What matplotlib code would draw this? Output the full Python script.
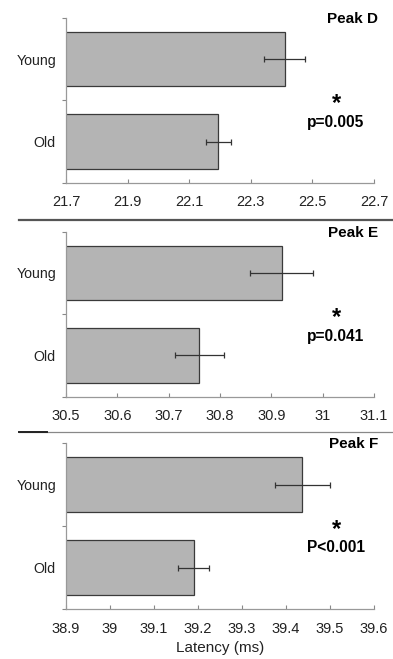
import matplotlib
matplotlib.use("Agg")
import matplotlib.pyplot as plt
from matplotlib.lines import Line2D

plt.rcParams['font.family'] = ['Liberation Sans', 'DejaVu Sans']

categories = ["Old", "Young"]
peaks = ["Peak D", "Peak E", "Peak F"]
means = {
    "Peak D": [22.195, 22.41],
    "Peak E": [30.76, 30.92],
    "Peak F": [39.19, 39.437],
}
errors = {
    "Peak D": [0.04, 0.066],
    "Peak E": [0.048, 0.062],
    "Peak F": [0.035, 0.063],
}
xticks = {
    "Peak D": [21.7, 21.9, 22.1, 22.3, 22.5, 22.7],
    "Peak E": [30.5, 30.6, 30.7, 30.8, 30.9, 31.0, 31.1],
    "Peak F": [38.9, 39.0, 39.1, 39.2, 39.3, 39.4, 39.5, 39.6],
}
xticklabels = {
    "Peak D": ["21.7", "21.9", "22.1", "22.3", "22.5", "22.7"],
    "Peak E": ["30.5", "30.6", "30.7", "30.8", "30.9", "31", "31.1"],
    "Peak F": ["38.9", "39", "39.1", "39.2", "39.3", "39.4", "39.5", "39.6"],
}
pvalues = {"Peak D": "p=0.005", "Peak E": "p=0.041", "Peak F": "P<0.001"}

W, H = 393, 659
fig = plt.figure(figsize=(W / 100, H / 100), dpi=100)

# axes pixel extents (top, bottom)
panels_px = [(18, 182.7), (231.7, 396.7), (443.3, 609.3)]
left_px, right_px = 66, 374

for peak, (top, bot) in zip(peaks, panels_px):
    h = bot - top
    ax = fig.add_axes([left_px / W, 1 - bot / H, (right_px - left_px) / W, h / H])
    ys = list(range(len(categories)))
    ax.barh(ys, means[peak], height=0.66, left=0, color="#b4b4b4",
            edgecolor="#3a3a3a", linewidth=0.9, zorder=2)
    ax.errorbar(means[peak], ys, xerr=errors[peak], fmt="none", ecolor="#333333",
                elinewidth=0.9, capsize=2.5, capthick=0.9, zorder=3)
    t = xticks[peak]
    ax.set_xlim(t[0], t[-1])
    ax.set_ylim(-0.5, 1.5)
    ax.set_xticks(t)
    ax.set_xticklabels(xticklabels[peak], fontsize=10.5, color="#222222")
    ax.set_yticks(ys)
    ax.set_yticklabels(categories, fontsize=10.2, color="#222222")
    ax.set_yticks([-0.5, 0.5, 1.5], minor=True)
    ax.tick_params(axis="y", which="major", length=0, pad=7.2)
    ax.tick_params(axis="y", which="minor", length=3, width=0.8, color="#888888", direction="out")
    ax.tick_params(axis="x", which="major", length=3, width=0.8, color="#888888", direction="in", pad=9)
    for s in ["top", "right"]:
        ax.spines[s].set_visible(False)
    for s in ["left", "bottom"]:
        ax.spines[s].set_color("#999999")
        ax.spines[s].set_linewidth(0.9)
    fx = (378 - left_px) / (right_px - left_px)
    fc = (336 - left_px) / (right_px - left_px)
    ax.text(fx, 1 - 1 / h, peak, transform=ax.transAxes, ha="right", va="center",
            fontsize=11, fontweight="bold", clip_on=False)
    ax.text(fc, 1 - 86 / h, "*", transform=ax.transAxes, ha="center", va="center",
            fontsize=17, fontweight="bold")
    ax.text(fc, 1 - 104.5 / h, pvalues[peak], transform=ax.transAxes, ha="center", va="center",
            fontsize=11.2, fontweight="bold")
    if peak == "Peak F":
        ax.set_xlabel("Latency (ms)", fontsize=11, labelpad=4, color="#222222")

# separator lines
fig.add_artist(Line2D([19 / W, 1], [1 - 220 / H, 1 - 220 / H], color="#555555", linewidth=1.6))
fig.add_artist(Line2D([19 / W, 1], [1 - 432.3 / H, 1 - 432.3 / H], color="#888888", linewidth=0.9))
fig.add_artist(Line2D([19 / W, 47 / W], [1 - 432.3 / H, 1 - 432.3 / H], color="#222222", linewidth=1.4))

fig.savefig("out.png", dpi=100)
